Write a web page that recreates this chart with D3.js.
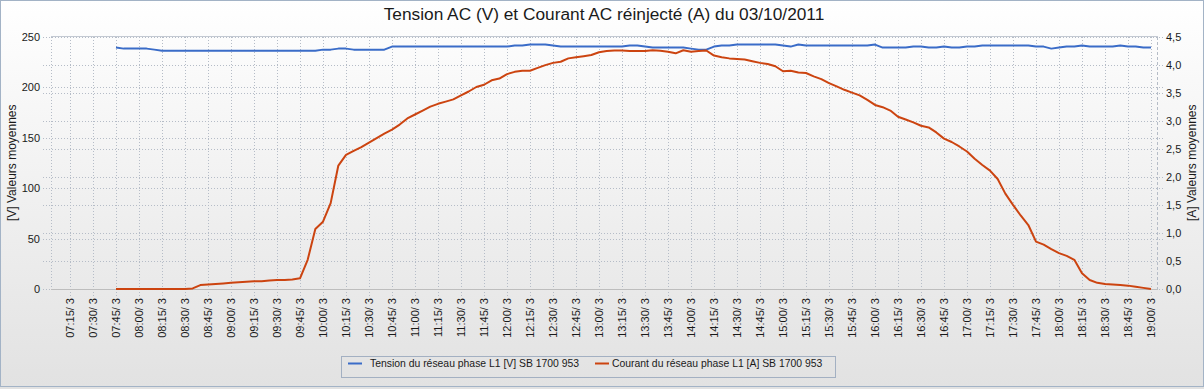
<!DOCTYPE html>
<html><head><meta charset="utf-8">
<script src="https://cdn.jsdelivr.net/npm/d3@7"></script>
<style>body{margin:0;background:#fff}svg{display:block}text{font-family:"Liberation Sans",Arial,sans-serif;fill:#1a1a1a}</style>
</head><body><svg id="c" width="1204" height="389"></svg>
<script>
const times = ["07:45","07:50","07:55","08:00","08:05","08:10","08:15","08:20","08:25","08:30","08:35","08:40","08:45","08:50","08:55",
"09:00","09:05","09:10","09:15","09:20","09:25","09:30","09:35","09:40","09:45","09:50","09:55",
"10:00","10:05","10:10","10:15","10:20","10:25","10:30","10:35","10:40","10:45","10:50","10:55",
"11:00","11:05","11:10","11:15","11:20","11:25","11:30","11:35","11:40","11:45","11:50","11:55",
"12:00","12:05","12:10","12:15","12:20","12:25","12:30","12:35","12:40","12:45","12:50","12:55",
"13:00","13:05","13:10","13:15","13:20","13:25","13:30","13:35","13:40","13:45","13:50","13:55",
"14:00","14:05","14:10","14:15","14:20","14:25","14:30","14:35","14:40","14:45","14:50","14:55",
"15:00","15:05","15:10","15:15","15:20","15:25","15:30","15:35","15:40","15:45","15:50","15:55",
"16:00","16:05","16:10","16:15","16:20","16:25","16:30","16:35","16:40","16:45","16:50","16:55",
"17:00","17:05","17:10","17:15","17:20","17:25","17:30","17:35","17:40","17:45","17:50","17:55",
"18:00","18:05","18:10","18:15","18:20","18:25","18:30","18:35","18:40","18:45","18:50","18:55","19:00"];

const voltage = [239,238,238,238,238,237,
236,236,236,236,236,236,236,236,236,236,236,236,236,236,236,236,236,236,236,236,236,
237,237,238,238,
237,237,237,237,237,
240,240,240,240,240,240,240,240,240,240,240,240,240,240,240,240,
241,241,242,242,242,241,240,
240,240,240,240,240,240,240,240,
241,241,240,
239,239,239,239,239,
238,237,237,240,241,241,
242,242,242,242,242,242,
241,240,242,
241,241,241,241,241,241,241,241,241,
242,239,239,239,239,240,240,239,239,240,239,239,240,240,
241,241,241,241,241,241,241,
240,240,238,239,240,240,241,240,240,240,240,241,240,240,239,239];

const current = [0,0,0,0,0,0,0,0,0,0,
0.01,0.07,0.08,0.09,0.10,0.11,0.12,0.13,0.14,0.14,0.15,0.16,0.16,0.17,0.19,
0.52,1.07,1.20,1.53,2.20,2.39,2.46,2.53,2.61,2.69,2.77,
2.84,2.93,3.04,3.11,3.18,3.25,3.30,3.34,3.38,3.45,3.52,
3.60,3.64,3.72,3.75,3.83,3.87,3.89,3.89,3.94,3.99,4.03,4.05,
4.11,4.13,4.15,4.17,4.22,4.24,4.25,4.25,4.24,4.24,4.24,4.255,4.245,4.23,4.20,4.255,4.23,4.24,4.25,
4.16,4.13,4.11,4.10,4.09,4.06,4.03,4.01,3.97,3.88,3.89,3.86,3.85,3.79,3.74,3.67,3.61,3.55,3.50,3.45,3.37,3.28,
3.24,3.18,3.07,3.02,2.97,2.91,2.88,2.79,2.68,2.62,2.54,2.45,2.32,2.21,2.11,1.96,1.70,1.50,1.31,1.14,
0.845,0.79,0.71,0.64,0.59,0.52,0.28,0.16,0.11,0.09,0.08,0.07,0.06,0.04,0.02,0.00];

const xTickLabels = ["07:15/ 3","07:30/ 3","07:45/ 3","08:00/ 3","08:15/ 3","08:30/ 3","08:45/ 3","09:00/ 3","09:15/ 3","09:30/ 3","09:45/ 3",
"10:00/ 3","10:15/ 3","10:30/ 3","10:45/ 3","11:00/ 3","11:15/ 3","11:30/ 3","11:45/ 3","12:00/ 3","12:15/ 3","12:30/ 3","12:45/ 3",
"13:00/ 3","13:15/ 3","13:30/ 3","13:45/ 3","14:00/ 3","14:15/ 3","14:30/ 3","14:45/ 3","15:00/ 3","15:15/ 3","15:30/ 3","15:45/ 3",
"16:00/ 3","16:15/ 3","16:30/ 3","16:45/ 3","17:00/ 3","17:15/ 3","17:30/ 3","17:45/ 3","18:00/ 3","18:15/ 3","18:30/ 3","18:45/ 3","19:00/ 3"];
const leftTicks = [0,50,100,150,200,250];
const rightTicks = [0,0.5,1,1.5,2,2.5,3,3.5,4,4.5];
const rightTickLabels = ["0,0","0,5","1,0","1,5","2,0","2,5","3,0","3,5","4,0","4,5"];
const seriesNames = ["Tension du réseau phase L1 [V] SB 1700 953","Courant du réseau phase L1 [A] SB 1700 953"];
const seriesColors = ["#3a6cc8","#cc4410"];
const title = "Tension AC (V) et Courant AC réinjecté (A) du 03/10/2011";
const leftTitle = "[V] Valeurs moyennes";
const rightTitle = "[A] Valeurs moyennes";

const toMin = s => { const p = s.split(":"); return +p[0]*60 + +p[1]; };
const W = 1204, H = 389;
const P = {l:51, r:1157, t:36.5, b:289};
const svg = d3.select("#c");
const defs = svg.append("defs");
const g1 = defs.append("linearGradient").attr("id","bg").attr("x1",0).attr("y1",0).attr("x2",0).attr("y2",1);
g1.append("stop").attr("offset","0%").attr("stop-color","#ffffff");
g1.append("stop").attr("offset","100%").attr("stop-color","#e2e2e2");
svg.append("rect").attr("x",0).attr("y",0).attr("width",W).attr("height",H).attr("fill","#e2e2e2");
svg.append("rect").attr("x",0.5).attr("y",0.5).attr("width",W-1).attr("height",386).attr("fill","url(#bg)").attr("stroke","#a3b3c6");

const x = d3.scaleLinear().domain([toMin("07:15"), toMin("19:00")]).range([70,1151]);
const yL = d3.scaleLinear().domain([0,250]).range([P.b, P.t]);
const yR = d3.scaleLinear().domain([0,4.5]).range([P.b, P.t]);

const gridStyle = sel => sel.attr("stroke","#b5bcc7").attr("stroke-width",1).attr("stroke-dasharray","1,2").attr("shape-rendering","crispEdges");

const hg = svg.append("g");
hg.selectAll("line.l").data(leftTicks).join("line").attr("class","l")
  .attr("x1",43).attr("x2",1163).attr("y1",d=>Math.round(yL(d))+0.5).attr("y2",d=>Math.round(yL(d))+0.5).call(gridStyle);
hg.selectAll("line.r").data(rightTicks).join("line").attr("class","r")
  .attr("x1",43).attr("x2",1163).attr("y1",d=>Math.round(yR(d))+0.5).attr("y2",d=>Math.round(yR(d))+0.5).call(gridStyle);
const tickMins = xTickLabels.map(s => toMin(s.split("/")[0]));
hg.selectAll("line.v").data(tickMins).join("line").attr("class","v")
  .attr("x1",d=>Math.round(x(d))+0.5).attr("x2",d=>Math.round(x(d))+0.5).attr("y1",P.t).attr("y2",297).call(gridStyle);
svg.append("line").attr("x1",P.l+0.5).attr("x2",P.l+0.5).attr("y1",P.t).attr("y2",P.b).call(gridStyle);
svg.append("line").attr("x1",P.r+0.5).attr("x2",P.r+0.5).attr("y1",P.t).attr("y2",P.b).call(gridStyle).attr("stroke-dasharray","3,2");
svg.append("line").attr("x1",P.l).attr("x2",P.r+1).attr("y1",36.5).attr("y2",36.5).attr("stroke","#c3c9d2").attr("shape-rendering","crispEdges");
svg.append("line").attr("x1",P.l).attr("x2",P.r+1).attr("y1",289.5).attr("y2",289.5).attr("stroke","#bdbdbd").attr("shape-rendering","crispEdges");

const axL = svg.append("g").attr("transform",`translate(${P.l},0)`)
  .call(d3.axisLeft(yL).tickValues(leftTicks).tickSize(8).tickPadding(3));
const axR = svg.append("g").attr("transform",`translate(${P.r},0)`)
  .call(d3.axisRight(yR).tickValues(rightTicks).tickSize(6).tickPadding(3).tickFormat((d,i)=>rightTickLabels[i]));
const axB = svg.append("g").attr("transform",`translate(0,${P.b})`)
  .call(d3.axisBottom(x).tickValues(tickMins).tickSize(8).tickFormat((d,i)=>xTickLabels[i]));
[axL,axR,axB].forEach(a => { a.select(".domain").remove(); a.selectAll(".tick line").remove();
  a.selectAll("text").attr("font-size",11).attr("font-family",null).attr("fill","#1a1a1a"); });
axB.selectAll("text").attr("transform","rotate(-90)").attr("text-anchor","end")
  .attr("x",-9).attr("y",0).attr("dy","0.35em");

const lineV = d3.line().x((d,i)=>x(toMin(times[i]))).y(d=>yL(d));
const lineA = d3.line().x((d,i)=>x(toMin(times[i]))).y(d=>yR(d));
svg.append("path").datum(voltage).attr("d",lineV).attr("fill","none").attr("stroke",seriesColors[0]).attr("stroke-width",2).attr("stroke-linejoin","round");
svg.append("path").datum(current).attr("d",lineA).attr("fill","none").attr("stroke",seriesColors[1]).attr("stroke-width",2).attr("stroke-linejoin","round");

svg.append("text").attr("x",604).attr("y",20).attr("text-anchor","middle").attr("font-size",17.3).text(title);
svg.append("text").attr("transform",`translate(16,${(P.t+P.b)/2}) rotate(-90)`).attr("text-anchor","middle").attr("font-size",12).text(leftTitle);
svg.append("text").attr("transform",`translate(1196,${(P.t+P.b)/2}) rotate(-90)`).attr("text-anchor","middle").attr("font-size",12).text(rightTitle);

const lg = svg.append("g");
lg.append("rect").attr("x",341.5).attr("y",356.5).attr("width",494).attr("height",21).attr("fill","none").attr("stroke","#a3b0c2");
const lx = [348, 595];
const tx = [370, 612];
seriesNames.forEach((n,i)=>{
  lg.append("line").attr("x1",lx[i]).attr("x2",lx[i]+14).attr("y1",363.5).attr("y2",363.5).attr("stroke",seriesColors[i]).attr("stroke-width",2);
  lg.append("text").attr("x",tx[i]).attr("y",367).attr("font-size",10.4).text(n);
});
</script></body></html>
